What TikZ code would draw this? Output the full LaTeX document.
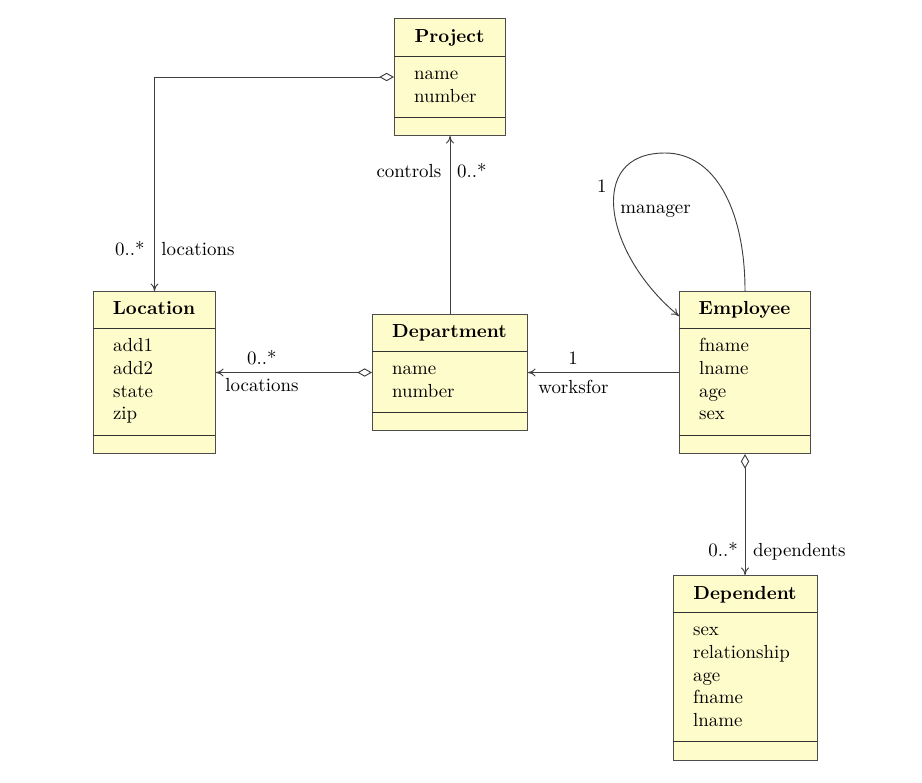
\documentclass[tikz,border=0pt]{standalone}
\usetikzlibrary{arrows.meta}
\newlength\pxlen
\setlength\pxlen{0.529pt}
\tikzset{
  umlbox/.style={draw=black!70, fill=yellow!20, line width=0.55pt, inner sep=0pt, anchor=north west},
  divider/.style={draw=black!80, line width=0.5pt},
  classtitle/.style={font=\bfseries, inner sep=0pt, anchor=base},
  attr/.style={inner sep=0pt, anchor=base west},
  rolelabel/.style={inner sep=0pt},
  assoc/.style={draw=black!75, line width=0.5pt},
  navto/.style={-{To[length=4pt,width=4.2pt]}},
  aggnav/.style={{Diamond[fill=white,length=7.8pt,width=4.4pt]}-{To[length=4pt,width=4.2pt]}},
}
% class box: name, left, top, right, bottom, first divider, second divider, title, attributes
\newcommand\umlclassbox[9]{%
  \node[umlbox, minimum width={(#4-#2)*\pxlen}, minimum height={(#5-#3)*\pxlen}] (#1) at (#2,#3) {};
  \draw[divider] (#2,#6) -- (#4,#6);
  \draw[divider] (#2,#7) -- (#4,#7);
  \node[classtitle] (#1-title) at ({(#2+#4)/2},{(#3+#6)/2+5.5}) {#8};
  \foreach \a [count=\i] in {#9}
    \node[attr] (#1-attr\i) at ({#2+19.7},{#6+23.7+(\i-1)*22.7}) {\a};
}
\begin{document}
\begin{tikzpicture}[x=\pxlen, y=-\pxlen]
\useasboundingbox (0,0) rectangle (922,783);

\umlclassbox{project}{394}{18}{505}{135}{56}{117}{Project}{name,number}
\umlclassbox{location}{93}{291}{215}{453}{328}{435}{Location}{add1,add2,state,zip}
\umlclassbox{department}{372}{314}{527}{430}{351}{412}{Department}{name,number}
\umlclassbox{employee}{679}{291}{810}{453}{328}{435}{Employee}{fname,lname,age,sex}
\umlclassbox{dependent}{673}{575}{817}{760}{612}{741}{Dependent}{sex,relationship,age,fname,lname}

% associations
\draw[assoc, aggnav] (project.west) -| (location.north);
\draw[assoc, navto] (department.north) -- (project.south);
\draw[assoc, aggnav] (department.west) -- (location.east);
\draw[assoc, navto] (employee.west) -- (department.east);
% self association: manager
\coordinate (mgrend) at ([yshift={-25*\pxlen}]employee.north west);
\coordinate (mgrtop) at (665,153);
\draw[assoc, navto] (employee.north) .. controls (745,210) and (715,153) .. (mgrtop)
  .. controls (585,153) and (605,255) .. (mgrend);
\draw[assoc, aggnav] (employee.south) -- (employee.south |- dependent.north);

% role names and multiplicities
\node[rolelabel, anchor=base east] (locmult) at (145,256) {0..*};
\node[rolelabel, anchor=base west] (locrole) at (161,256) {locations};
\node[rolelabel, anchor=base east] (ctrlrole) at (441.7,177.3) {controls};
\node[rolelabel, anchor=base west] (ctrlmult) at (456.7,177.3) {0..*};
\node[rolelabel, anchor=base west] (deplocmult) at (246.7,365) {0..*};
\node[rolelabel, anchor=base west] (deplocrole) at (225,391.7) {locations};
\node[rolelabel, anchor=base west] (worksmult) at (568,365) {1};
\node[rolelabel, anchor=base west] (worksrole) at (538,393.3) {worksfor};
\node[rolelabel, anchor=base west] (mgrmult) at (596.7,192.3) {1};
\node[rolelabel, anchor=base west] (mgrrole) at (620,214) {manager};
\node[rolelabel, anchor=base west] (depmult) at (708,556.7) {0..*};
\node[rolelabel, anchor=base west] (deprole) at (752.7,556.7) {dependents};
\end{tikzpicture}
\end{document}
